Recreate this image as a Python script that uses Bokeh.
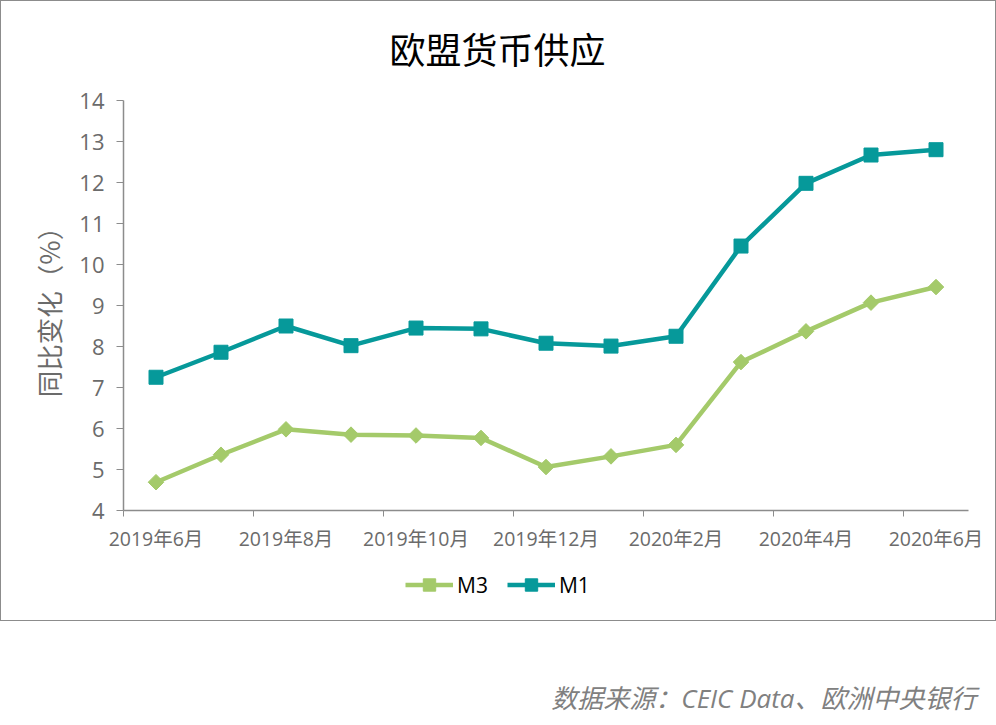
from bokeh.plotting import figure
from bokeh.models import FixedTicker, Label, Legend, Range1d
from bokeh.layouts import column
from bokeh.embed import file_html
from bokeh.resources import INLINE

# ---------------- data ----------------
months = ["2019年6月", "2019年7月", "2019年8月", "2019年9月", "2019年10月",
          "2019年11月", "2019年12月", "2020年1月", "2020年2月", "2020年3月",
          "2020年4月", "2020年5月", "2020年6月"]
m3 = [4.69, 5.36, 5.98, 5.85, 5.83, 5.77, 5.06, 5.32, 5.60, 7.62, 8.37, 9.07, 9.45]
m1 = [7.25, 7.86, 8.50, 8.02, 8.45, 8.43, 8.08, 8.01, 8.25, 10.45, 11.98, 12.67, 12.80]
y_ticks = [4, 5, 6, 7, 8, 9, 10, 11, 12, 13, 14]
series_names = ["M3", "M1"]
title_text = "欧盟货币供应"
y_label_text = "同比变化（%）"
source_text = "数据来源：CEIC Data、欧洲中央银行"

C_M3 = "#A4CA6A"
C_M1 = "#06999A"
GRAY = "#6b6b6b"
AXIS = "#8c8c8c"
FONT = "'Open Sans', 'Noto Sans CJK SC', sans-serif"
CJK = "'Noto Sans CJK SC', sans-serif"

W = 994                    # inner width (a 1px border goes round it)
HT, HP, HL = 75, 485, 59   # title strip / chart / legend strip (inside border)
H2 = 104                   # source strip
L, R = 122, 967
TOP, BOT = 24, 434         # frame top / bottom inside the chart strip

xs = list(range(len(months)))

def strip(h):
    f = figure(width=W, height=h, output_backend="svg", toolbar_location=None,
               x_axis_type=None, y_axis_type=None, min_border=0,
               x_range=Range1d(L, R), y_range=Range1d(h, 0))
    f.outline_line_color = None
    f.xgrid.grid_line_color = None
    f.ygrid.grid_line_color = None
    return f

# ---- title strip ----
pt = strip(HT)
pt.add_layout(Label(x=496, y=46, text=title_text, text_align="center",
                    text_baseline="middle", text_font=CJK,
                    text_font_size="36px", text_color="black"))

# ---- chart ----
p = figure(width=W, height=HP, output_backend="svg", toolbar_location=None,
           x_range=Range1d(-0.5, len(months) - 0.5), y_range=Range1d(4, 14),
           min_border_left=L, min_border_right=W - R,
           min_border_top=TOP, min_border_bottom=HP - BOT)
p.outline_line_color = None
p.xgrid.grid_line_color = None
p.ygrid.grid_line_color = None

p.line(xs, m3, line_color=C_M3, line_width=4.5)
p.scatter(xs, m3, marker="square", angle=0.7854, size=11,
          fill_color=C_M3, line_color=C_M3)
p.line(xs, m1, line_color=C_M1, line_width=4.5)
p.scatter(xs, m1, marker="square", size=14, fill_color=C_M1, line_color=C_M1)

xa = p.xaxis[0]
xa.ticker = FixedTicker(ticks=xs[::2], minor_ticks=[i - 0.5 for i in xs[::2]])
xa.major_label_overrides = {i: months[i] for i in xs[::2]}
xa.major_tick_line_color = None
xa.major_tick_out = 0
xa.minor_tick_out = 6
xa.minor_tick_in = 0
xa.minor_tick_line_color = AXIS
xa.axis_line_color = AXIS
xa.axis_line_width = 1.5
xa.major_label_text_font = FONT
xa.major_label_text_font_size = "19.5px"
xa.major_label_text_color = GRAY
xa.major_label_standoff = 8

ya = p.yaxis[0]
ya.ticker = FixedTicker(ticks=y_ticks)
ya.major_tick_out = 7
ya.major_tick_in = 0
ya.minor_tick_line_color = None
ya.major_tick_line_color = AXIS
ya.axis_line_color = AXIS
ya.axis_line_width = 1.5
ya.major_label_text_font = FONT
ya.major_label_text_font_size = "22px"
ya.major_label_text_color = GRAY
ya.major_label_standoff = 12
ya.axis_label = y_label_text
ya.axis_label_text_font = CJK
ya.axis_label_text_font_size = "26.5px"
ya.axis_label_text_font_style = "normal"
ya.axis_label_text_color = GRAY
ya.axis_label_standoff = 8

# ---- legend strip (same glyph styles as the series; its lines lie outside its view) ----
pl = figure(width=W, height=HL, output_backend="svg", toolbar_location=None,
            x_axis_type=None, y_axis_type=None, min_border=0,
            x_range=Range1d(0, 1), y_range=Range1d(0, 1))
pl.outline_line_color = None
pl.xgrid.grid_line_color = None
pl.ygrid.grid_line_color = None
g3l = pl.line(xs, m3, line_color=C_M3, line_width=4.5)
g3s = pl.scatter(xs, m3, marker="square", angle=0.7854, size=11,
                 fill_color=C_M3, line_color=C_M3)
g1l = pl.line(xs, m1, line_color=C_M1, line_width=4.5)
g1s = pl.scatter(xs, m1, marker="square", size=14, fill_color=C_M1, line_color=C_M1)
legend = Legend(items=[(series_names[0], [g3l, g3s]), (series_names[1], [g1l, g1s])],
                orientation="horizontal", location=(282, 20),
                glyph_width=48, glyph_height=31, label_standoff=4, spacing=19,
                padding=0, margin=0, border_line_color=None,
                background_fill_alpha=0,
                label_text_font=FONT, label_text_font_size="21px",
                label_text_color="black")
pl.add_layout(legend, "center")

framed = column(pt, p, pl, spacing=0, styles={"border": "1px solid #8c8c8c"})

# ---- source text below the bordered chart ----
p2 = figure(width=996, height=H2, output_backend="svg", toolbar_location=None,
            x_axis_type=None, y_axis_type=None, min_border=0,
            x_range=Range1d(0, 996), y_range=Range1d(0, H2))
p2.outline_line_color = None
p2.xgrid.grid_line_color = None
p2.ygrid.grid_line_color = None
p2.add_layout(Label(x=976, y=28, text=source_text, text_align="right",
                    text_baseline="middle", text_font=FONT,
                    text_font_style="italic",
                    text_font_size="26px", text_color="#808080"))

layout = column(framed, p2, spacing=0)
open("out.html", "w").write(file_html(layout, INLINE))
